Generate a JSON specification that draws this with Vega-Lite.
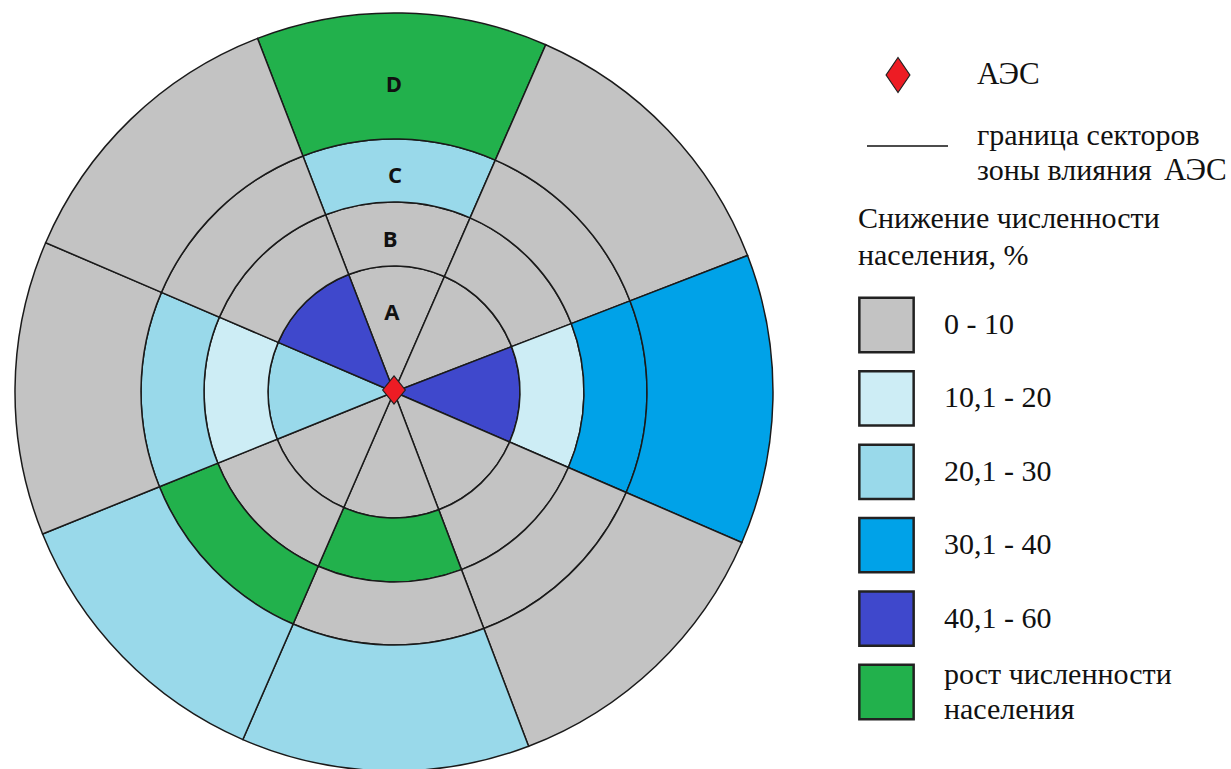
{"$schema":"https://vega.github.io/schema/vega-lite/v6.json","width":1231,"height":769,"autosize":{"type":"none"},"padding":0,"background":"white","config":{"view":{"stroke":null}},
"layer":[
{"data":{"values":[
{"zone":"A","start":-21.1,"end":23.6,"inner":0,"outer":126,"class":"0 - 10"},
{"zone":"B","start":-21.1,"end":23.6,"inner":126,"outer":190,"class":"0 - 10"},
{"zone":"C","start":-21.1,"end":23.6,"inner":190,"outer":253,"class":"20,1 - 30"},
{"zone":"D","start":-21.1,"end":23.6,"inner":253,"outer":379,"class":"рост численности населения"},
{"zone":"A","start":23.6,"end":68.9,"inner":0,"outer":126,"class":"0 - 10"},
{"zone":"B","start":23.6,"end":68.9,"inner":126,"outer":190,"class":"0 - 10"},
{"zone":"C","start":23.6,"end":68.9,"inner":190,"outer":253,"class":"0 - 10"},
{"zone":"D","start":23.6,"end":68.9,"inner":253,"outer":379,"class":"0 - 10"},
{"zone":"A","start":68.9,"end":113.4,"inner":0,"outer":126,"class":"40,1 - 60"},
{"zone":"B","start":68.9,"end":113.4,"inner":126,"outer":190,"class":"10,1 - 20"},
{"zone":"C","start":68.9,"end":113.4,"inner":190,"outer":253,"class":"30,1 - 40"},
{"zone":"D","start":68.9,"end":113.4,"inner":253,"outer":379,"class":"30,1 - 40"},
{"zone":"A","start":113.4,"end":159.2,"inner":0,"outer":126,"class":"0 - 10"},
{"zone":"B","start":113.4,"end":159.2,"inner":126,"outer":190,"class":"0 - 10"},
{"zone":"C","start":113.4,"end":159.2,"inner":190,"outer":253,"class":"0 - 10"},
{"zone":"D","start":113.4,"end":159.2,"inner":253,"outer":379,"class":"0 - 10"},
{"zone":"A","start":159.2,"end":203.5,"inner":0,"outer":126,"class":"0 - 10"},
{"zone":"B","start":159.2,"end":203.5,"inner":126,"outer":190,"class":"рост численности населения"},
{"zone":"C","start":159.2,"end":203.5,"inner":190,"outer":253,"class":"0 - 10"},
{"zone":"D","start":159.2,"end":203.5,"inner":253,"outer":379,"class":"20,1 - 30"},
{"zone":"A","start":203.5,"end":248,"inner":0,"outer":126,"class":"0 - 10"},
{"zone":"B","start":203.5,"end":248,"inner":126,"outer":190,"class":"0 - 10"},
{"zone":"C","start":203.5,"end":248,"inner":190,"outer":253,"class":"рост численности населения"},
{"zone":"D","start":203.5,"end":248,"inner":253,"outer":379,"class":"20,1 - 30"},
{"zone":"A","start":248,"end":293.2,"inner":0,"outer":126,"class":"20,1 - 30"},
{"zone":"B","start":248,"end":293.2,"inner":126,"outer":190,"class":"10,1 - 20"},
{"zone":"C","start":248,"end":293.2,"inner":190,"outer":253,"class":"20,1 - 30"},
{"zone":"D","start":248,"end":293.2,"inner":253,"outer":379,"class":"0 - 10"},
{"zone":"A","start":293.2,"end":338.9,"inner":0,"outer":126,"class":"40,1 - 60"},
{"zone":"B","start":293.2,"end":338.9,"inner":126,"outer":190,"class":"0 - 10"},
{"zone":"C","start":293.2,"end":338.9,"inner":190,"outer":253,"class":"0 - 10"},
{"zone":"D","start":293.2,"end":338.9,"inner":253,"outer":379,"class":"0 - 10"}
]},
"mark":{"type":"arc","stroke":"#1a1a1a","strokeWidth":1.5},
"encoding":{
"x":{"datum":394,"type":"quantitative","scale":{"domain":[0,1231],"range":[0,1231],"nice":false,"zero":false},"axis":null},
"y":{"datum":392,"type":"quantitative","scale":{"domain":[0,769],"range":[0,769],"nice":false,"zero":false},"axis":null},
"theta":{"field":"start","type":"quantitative","stack":null,"scale":{"domain":[0,360],"range":[0,6.283185]}},
"theta2":{"field":"end"},
"radius":{"field":"outer","type":"quantitative","scale":{"type":"linear","domain":[0,380],"range":[0,380]}},
"radius2":{"field":"inner"},
"color":{"field":"class","type":"nominal","scale":{"domain":["0 - 10","10,1 - 20","20,1 - 30","30,1 - 40","40,1 - 60","рост численности населения"],"range":["#C3C3C3","#CDEDF5","#99D9EA","#00A2E8","#3F48CC","#22B14C"]},
"legend":{"orient":"none","legendX":858,"legendY":204,"padding":0,"title":["Снижение численности","населения, %"],"titleFont":"Liberation Serif","titleFontSize":30,"titleFontWeight":"normal","titleColor":"#111","titleLimit":400,"titleLineHeight":37,"titlePadding":25.5,"symbolType":"square","symbolSize":2950,"symbolStrokeColor":"#222","symbolStrokeWidth":2.5,"symbolOpacity":1,"rowPadding":8.4,"labelFont":"Liberation Serif","labelFontSize":30,"labelColor":"#111","labelLimit":400,"labelOffset":29,"labelExpr":"datum.label == 'рост численности населения' ? ['\u00a0','\u00a0'] : datum.label == '0 - 10' || datum.label == '40,1 - 60' ? '\u2009\u2009' + datum.label : datum.label == '30,1 - 40' ? '\u00a0\u2009' + datum.label : '\u00a0\u00a0' + datum.label","encoding":{"labels":{"lineHeight":{"value":35}}}}}
}},
{"data":{"values":[{"zone":"A","angle":-1.5,"r":79},{"zone":"B","angle":-1.5,"r":152},{"zone":"C","angle":0.3,"r":216},{"zone":"D","angle":0,"r":307}]},
"mark":{"type":"text","font":"Open Sans","fontWeight":"bold","fontSize":22,"color":"#111"},
"encoding":{"x":{"datum":394,"type":"quantitative"},"y":{"datum":392,"type":"quantitative"},
"theta":{"field":"angle","type":"quantitative","stack":null,"scale":{"domain":[0,360],"range":[0,6.283185]}},
"radius":{"field":"r","type":"quantitative","scale":{"type":"linear","domain":[0,380],"range":[0,380]}},
"text":{"field":"zone"}}},
{"data":{"values":[{"name":"АЭС на схеме","x":394,"y":390}]},
"mark":{"type":"point","filled":true,"fill":"#ED1C24","stroke":"#222","strokeWidth":1.2,"opacity":1,"size":800,"shape":"M0,-1L0.8,0L0,1L-0.8,0Z"},
"encoding":{"x":{"field":"x","type":"quantitative"},"y":{"field":"y","type":"quantitative"}}},
{"data":{"values":[{"name":"АЭС в легенде","x":898,"y":75}]},
"mark":{"type":"point","filled":true,"fill":"#ED1C24","stroke":"#222","strokeWidth":1.2,"opacity":1,"size":1225,"shape":"M0,-1L0.68,0L0,1L-0.68,0Z"},
"encoding":{"x":{"field":"x","type":"quantitative"},"y":{"field":"y","type":"quantitative"}}},
{"data":{"values":[{"x":867,"x2":948,"y":146}]},
"mark":{"type":"rule","stroke":"#111","strokeWidth":1.6},
"encoding":{"x":{"field":"x","type":"quantitative"},"x2":{"field":"x2"},"y":{"field":"y","type":"quantitative"}}},
{"data":{"values":[{"text":"граница секторов","x":977,"y":136},{"text":"зоны влияния","x":977,"y":171},{"text":"рост численности","x":944,"y":675},{"text":"населения","x":944,"y":710}]},
"mark":{"type":"text","font":"Liberation Serif","fontSize":30,"align":"left","baseline":"middle","color":"#111"},
"encoding":{"x":{"field":"x","type":"quantitative"},"y":{"field":"y","type":"quantitative"},"text":{"field":"text"}}},
{"data":{"values":[{"text":"АЭС","x":977,"y":75},{"text":"АЭС","x":1164,"y":171}]},
"mark":{"type":"text","font":"Liberation Serif","fontSize":31,"align":"left","baseline":"middle","color":"#111"},
"encoding":{"x":{"field":"x","type":"quantitative"},"y":{"field":"y","type":"quantitative"},"text":{"field":"text"}}}
]}
